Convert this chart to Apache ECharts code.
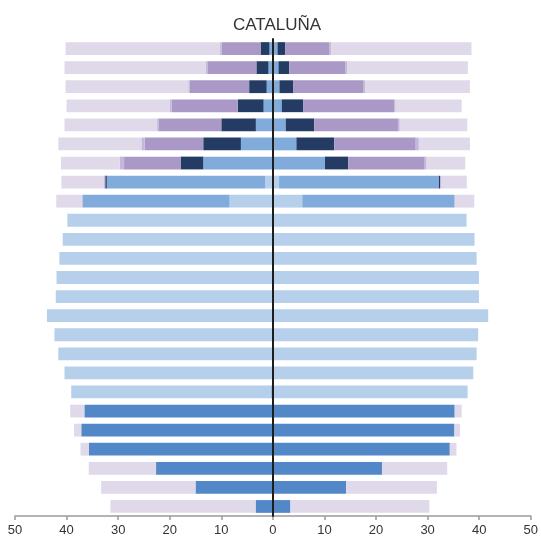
<!DOCTYPE html>
<html>
<head>
<meta charset="utf-8">
<title>Cataluña</title>
<script src="https://cdn.jsdelivr.net/npm/echarts@6/dist/echarts.min.js"></script>
<style>
  html, body { margin: 0; padding: 0; background: #ffffff; overflow: hidden; }
  #chart { width: 541px; height: 546px; }
</style>
</head>
<body>
<div id="chart"></div>
<script>
// Rows listed from top to bottom; the y axis is inverted so row 1 is drawn at the top.
const rows = ['1','2','3','4','5','6','7','8','9','10','11','12','13','14','15','16','17','18','19','20','21','22','23','24','25'];

const axisTicks = [-50, -40, -30, -20, -10, 0, 10, 20, 30, 40, 50];

// Left side segments (drawn to the left of zero)
const leftDark     = [0,0,0,0,0,0,0,0,0,0,0,0,0,0,0,0,0,0,0.3,36.55,37.15,35.7,22.65,15.0,3.35];
const leftLight    = [0,0,0,0,0,0,0,1.5,8.4,39.85,40.75,41.4,41.95,42.1,43.8,42.35,41.6,40.4,38.8,0,0,0,0,0,0];
const leftMid      = [0.66,0.85,1.2,1.8,3.3,6.2,13.5,30.7,28.5,0,0,0,0,0,0,0,0,0,0,0,0,0,0,0,0];
const leftNavy     = [1.73,2.35,3.4,5.0,6.7,7.3,4.4,0.3,0,0,0,0,0,0,0,0,0,0,0,0,0,0,0,0,0];
const leftPurple   = [7.5,9.4,11.5,12.8,12.1,11.35,10.95,0,0,0,0,0,0,0,0,0,0,0,0,0,0,0,0,0,0];
const leftPaleLil  = [0.35,0.45,0.3,0.35,0.35,0.65,0.85,0.35,0.2,0,0,0,0,0,0,0,0,0,0,0,0,0,0,0,0];
const leftLavender = [29.95,27.35,23.8,20.05,17.95,16.1,11.4,8.15,4.9,0,0,0,0,0,0,0,0,0,0,2.75,1.4,1.6,13.05,18.3,28.15];

// Right side segments
const rightDark     = [0,0,0,0,0,0,0,0,0,0,0,0,0,0,0,0,0,0,0,35.25,35.2,34.3,21.15,14.2,3.4];
const rightLight    = [0,0,0,0,0,0,0,1.2,5.7,37.55,39.1,39.5,39.95,39.95,41.75,39.8,39.5,38.85,37.75,0,0,0,0,0,0];
const rightMid      = [0.89,1.08,1.27,1.72,2.49,4.56,10.1,31.0,29.55,0,0,0,0,0,0,0,0,0,0,0,0,0,0,0,0];
const rightNavy     = [1.48,2.07,2.71,4.13,5.54,7.34,4.5,0.2,0,0,0,0,0,0,0,0,0,0,0,0,0,0,0,0,0];
const rightPurple   = [8.63,10.95,13.62,17.65,16.22,15.8,14.7,0,0,0,0,0,0,0,0,0,0,0,0,0,0,0,0,0,0];
const rightPaleLil  = [0.3,0.35,0.3,0.3,0.35,0.6,0.5,0.3,0,0,0,0,0,0,0,0,0,0,0,0,0,0,0,0,0];
const rightLavender = [27.2,23.35,20.3,12.8,13.1,9.9,7.5,4.9,3.8,0,0,0,0,0,0,0,0,0,0,1.35,1.1,1.3,12.65,17.6,26.95];

const palette = {
  dark: '#5288c7',
  light: '#b6cfeb',
  mid: '#80abdb',
  navy: '#243b63',
  purple: '#aa99c6',
  paleLilac: '#c4b7d9',
  lavender: '#dfd9ea'
};

// Stacking order runs outward from zero: first series sits next to the axis.
const layers = [
  ['dark', leftDark, rightDark],
  ['light', leftLight, rightLight],
  ['mid', leftMid, rightMid],
  ['navy', leftNavy, rightNavy],
  ['purple', leftPurple, rightPurple],
  ['paleLilac', leftPaleLil, rightPaleLil],
  ['lavender', leftLavender, rightLavender]
];

const series = [];
layers.forEach(function (layer) {
  const key = layer[0];
  series.push({
    name: key + '-left',
    type: 'bar',
    stack: 'pyramid',
    barCategoryGap: '33%',
    itemStyle: { color: palette[key] },
    data: layer[1].map(function (v) { return -v; })
  });
  series.push({
    name: key + '-right',
    type: 'bar',
    stack: 'pyramid',
    barCategoryGap: '33%',
    itemStyle: { color: palette[key] },
    data: layer[2].slice()
  });
});

const chart = echarts.init(document.getElementById('chart'), null, { renderer: 'canvas' });

chart.setOption({
  animation: false,
  backgroundColor: '#ffffff',
  textStyle: { fontFamily: 'Liberation Sans, Arial, sans-serif' },
  title: {
    text: 'CATALUÑA',
    left: 228,
    top: 12,
    textStyle: {
      fontFamily: 'Liberation Sans, Arial, sans-serif',
      fontSize: 17,
      fontWeight: 'normal',
      color: '#333333'
    }
  },
  grid: { left: 15, right: 7, top: 39, bottom: 30, containLabel: false },
  xAxis: {
    type: 'value',
    min: axisTicks[0],
    max: axisTicks[axisTicks.length - 1],
    interval: 10,
    axisLine: { show: true, lineStyle: { color: '#9a9a9a', width: 1.5 } },
    axisTick: { show: true, length: 4, lineStyle: { color: '#9a9a9a', width: 1.5 } },
    splitLine: { show: false },
    axisLabel: {
      color: '#333333',
      fontSize: 13,
      margin: 8,
      formatter: function (v) { return String(Math.abs(v)); }
    }
  },
  yAxis: {
    type: 'category',
    data: rows,
    inverse: true,
    z: 10,
    axisLine: { show: true, onZero: true, lineStyle: { color: '#1e1e1e', width: 2 } },
    axisTick: { show: false },
    axisLabel: { show: false },
    splitLine: { show: false }
  },
  series: series
});
</script>
</body>
</html>
